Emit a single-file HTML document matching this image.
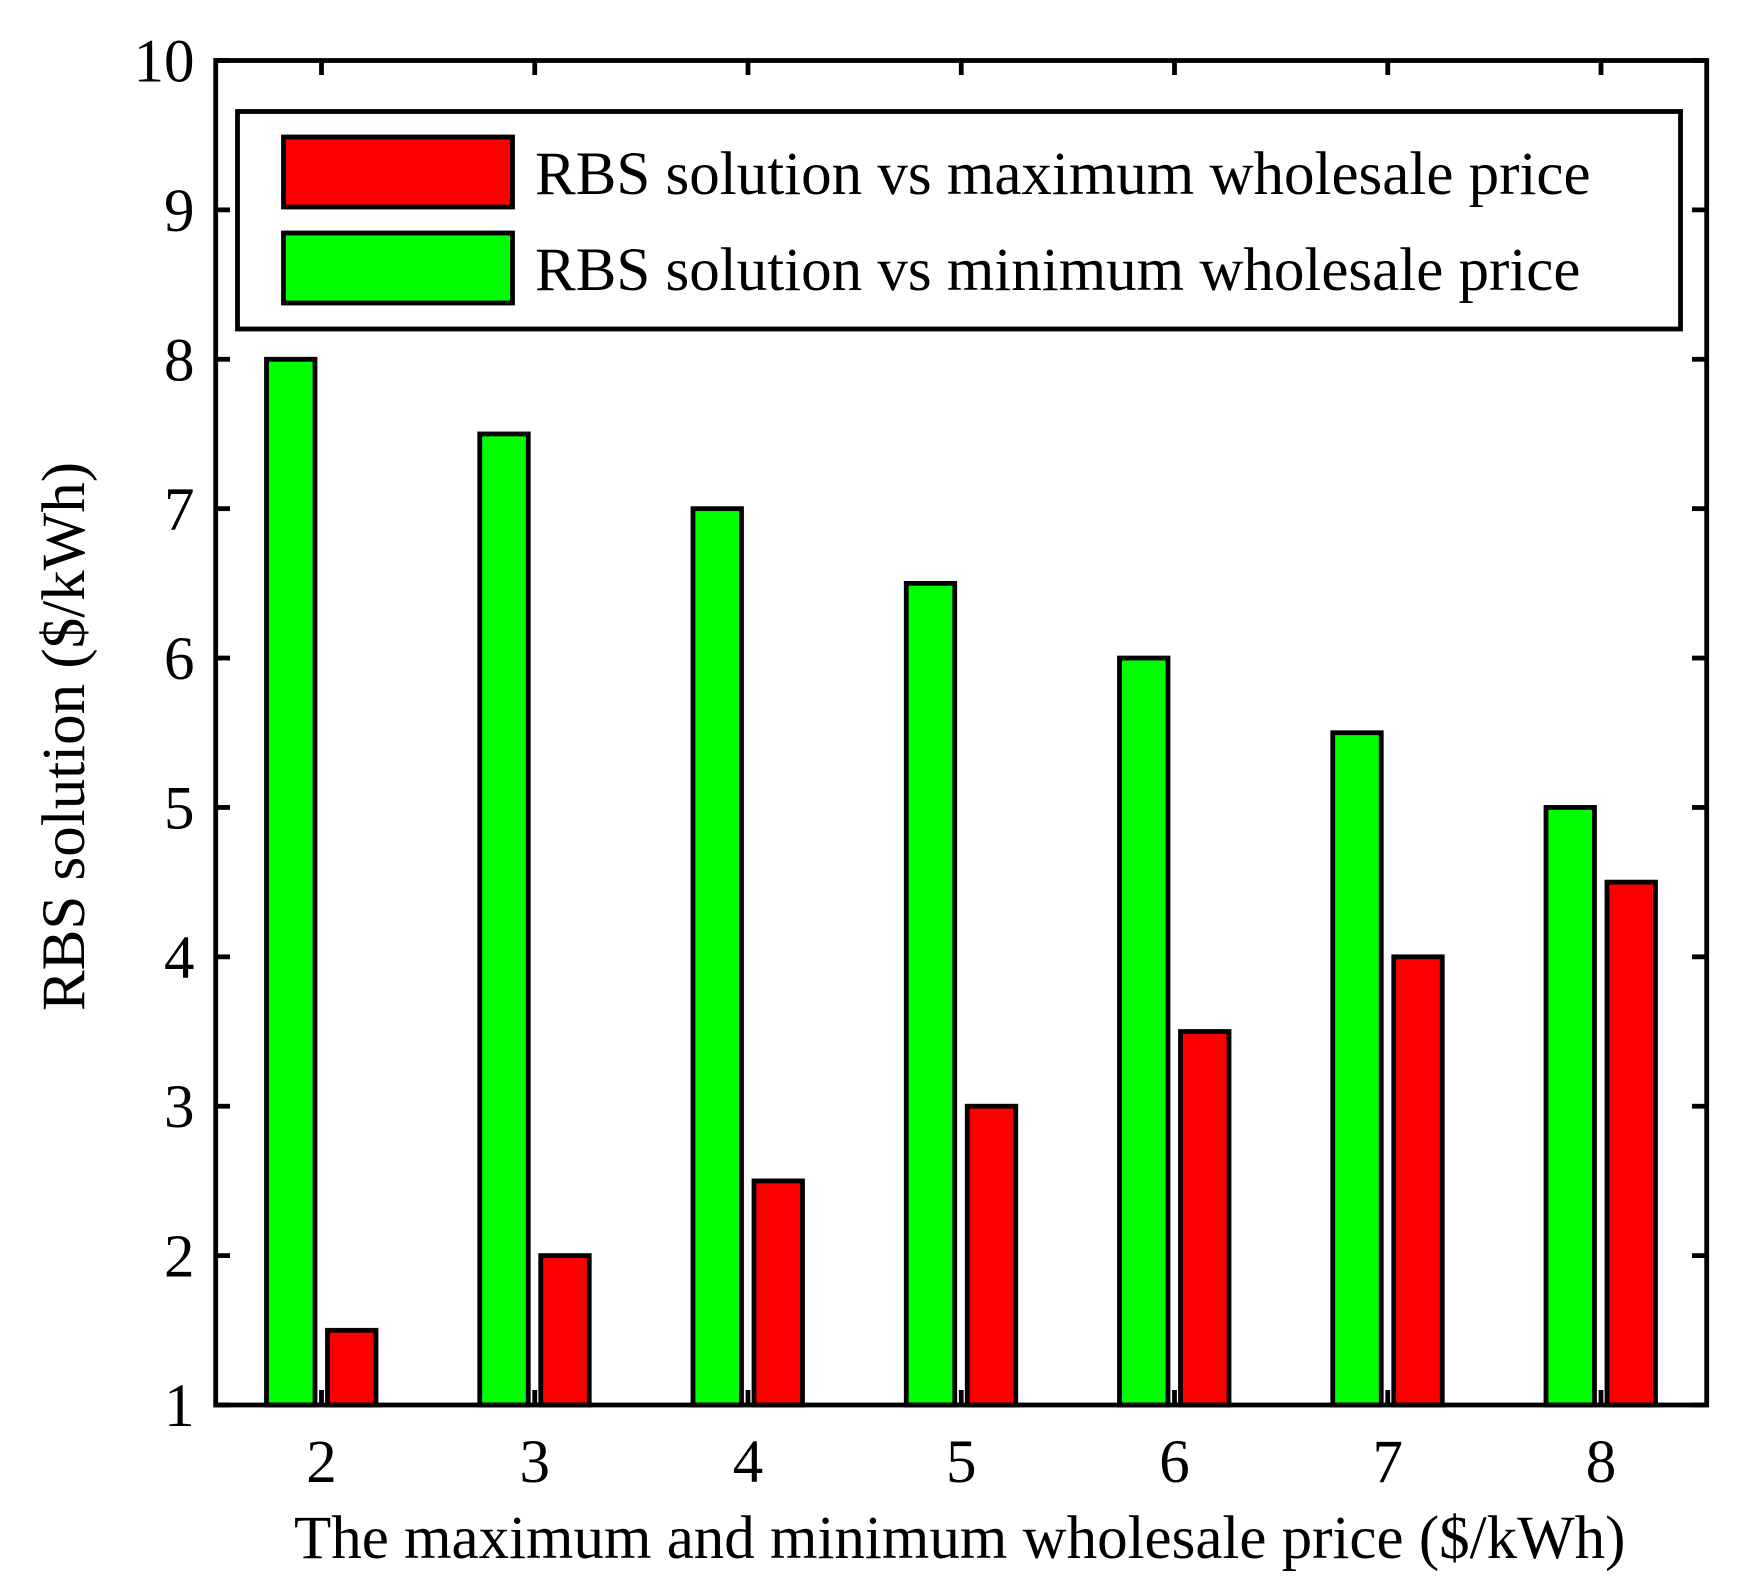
<!DOCTYPE html>
<html>
<head>
<meta charset="utf-8">
<title>RBS solution vs wholesale price</title>
<style>
html,body{margin:0;padding:0;background:#fff;width:1750px;height:1593px;overflow:hidden}
svg{display:block}
text{font-family:"Liberation Serif",serif;fill:#000;font-size:61px}
</style>
</head>
<body>
<svg id="chart" width="1750" height="1593" viewBox="0 0 1750 1593" xmlns="http://www.w3.org/2000/svg">
  <g id="ticks"></g>
  <g id="bars"></g>
  <rect x="215.7" y="60.5" width="1491" height="1344.5" fill="none" stroke="#000" stroke-width="4.8"/>
  <g id="tick-labels"></g>
  <text x="294" y="1558">The maximum and minimum wholesale price ($/kWh)</text>
  <text transform="translate(84,1011) rotate(-90)">RBS solution ($/kWh)</text>
  <g>
    <rect x="237.5" y="111.5" width="1443" height="217.5" fill="#fff" stroke="#000" stroke-width="4.8"/>
    <rect x="283.5" y="137" width="229" height="70" fill="#ff0000" stroke="#000" stroke-width="4.8"/>
    <text x="535" y="194">RBS solution vs maximum wholesale price</text>
    <rect x="283.5" y="233" width="229" height="70" fill="#00ff00" stroke="#000" stroke-width="4.8"/>
    <text x="535" y="290">RBS solution vs minimum wholesale price</text>
  </g>
</svg>
<script>
const categories = [2, 3, 4, 5, 6, 7, 8];
const minPriceValues = [8, 7.5, 7, 6.5, 6, 5.5, 5];
const maxPriceValues = [1.5, 2, 2.5, 3, 3.5, 4, 4.5];
const yTickLabels = [1, 2, 3, 4, 5, 6, 7, 8, 9, 10];

const NS = 'http://www.w3.org/2000/svg';
const xScale = v => 321.5 + (v - 2) * 213.25;
const yScale = v => 1405 - (v - 1) * 149.39;

function make(tag, parent, props) {
  const el = document.createElementNS(NS, tag);
  for (const k in props) el.setAttribute(k, props[k]);
  parent.appendChild(el);
  return el;
}

const tickGroup = document.getElementById('ticks');
const barGroup = document.getElementById('bars');
const labelGroup = document.getElementById('tick-labels');

yTickLabels.forEach(v => {
  const y = yScale(v);
  const left = make('line', tickGroup, {x1: 215.7, x2: 230, y1: y, y2: y, stroke: '#000', 'stroke-width': 4.8});
  
  
  const right = make('line', tickGroup, {x1: 1692, x2: 1706.7, y1: y, y2: y, stroke: '#000', 'stroke-width': 4.8});
  
  
  const label = make('text', labelGroup, {x: 194.5, y: y + 21, 'text-anchor': 'end'});
  label.textContent = v;
  
  
});

categories.forEach((c, i) => {
  const x = xScale(c);
  const top = make('line', tickGroup, {x1: x, x2: x, y1: 60.5, y2: 75, stroke: '#000', 'stroke-width': 4.8});
  
  
  const bottom = make('line', tickGroup, {x1: x, x2: x, y1: 1390, y2: 1405, stroke: '#000', 'stroke-width': 4.8});
  
  
  const label = make('text', labelGroup, {x: x, y: 1482, 'text-anchor': 'middle'});
  label.textContent = c;
  
  

  const gy = yScale(minPriceValues[i]);
  const green = make('rect', barGroup, {x: x - 55, y: gy, width: 48.5, height: yScale(1) - gy, fill: '#00ff00', stroke: '#000', 'stroke-width': 4.8});
  
  

  const ry = yScale(maxPriceValues[i]);
  const red = make('rect', barGroup, {x: x + 6, y: ry, width: 48.5, height: yScale(1) - ry, fill: '#ff0000', stroke: '#000', 'stroke-width': 4.8});
  
  
});
</script>
</body>
</html>
